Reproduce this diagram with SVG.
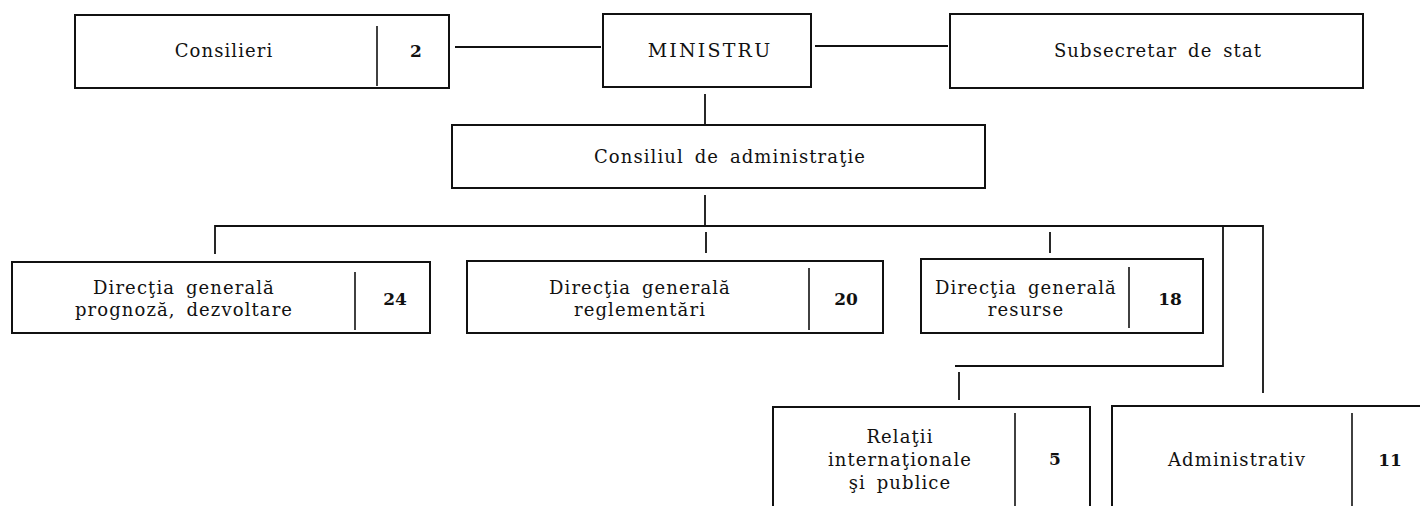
<svg xmlns="http://www.w3.org/2000/svg" width="1420" height="506" viewBox="0 0 1420 506">
<style>
.box{fill:#fff;stroke:#111;stroke-width:2}
.div{stroke:#111;stroke-width:1.6;fill:none}
.ln{stroke:#111;stroke-width:1.8;fill:none}
.t{font-family:"DejaVu Serif","Liberation Serif",serif;font-size:18px;letter-spacing:1.1px;word-spacing:4px;fill:#111;text-anchor:middle}
.n{font-family:"DejaVu Serif","Liberation Serif",serif;font-size:17px;font-weight:bold;fill:#111;text-anchor:middle}
</style>
<rect width="1420" height="506" fill="#fff"/>
<g id="connectors">
<line class="ln" x1="455" y1="47" x2="601" y2="47"/>
<line class="ln" x1="815" y1="46" x2="948" y2="46"/>
<line class="ln" x1="705" y1="94" x2="705" y2="124"/>
<line class="ln" x1="705" y1="195" x2="705" y2="226"/>
<polyline class="ln" points="215,254 215,226 1263,226 1263,393"/>
<line class="ln" x1="706" y1="232" x2="706" y2="253"/>
<line class="ln" x1="1050" y1="232" x2="1050" y2="253"/>
<polyline class="ln" points="1223,226 1223,366 955,366"/>
<line class="ln" x1="959" y1="372" x2="959" y2="400"/>
</g>
<g id="consilieri">
<rect class="box" x="75" y="15" width="374" height="73"/>
<line class="div" x1="377" y1="26" x2="377" y2="86"/>
<text class="t" x="224" y="57">Consilieri</text>
<text class="n" x="416" y="57">2</text>
</g>
<g id="ministru">
<rect class="box" x="603" y="14" width="208" height="73"/>
<text class="t" x="710" y="57" style="font-size:19px;letter-spacing:2.2px">MINISTRU</text>
</g>
<g id="subsecretar">
<rect class="box" x="950" y="14" width="413" height="74"/>
<text class="t" x="1158" y="57">Subsecretar de stat</text>
</g>
<g id="consiliul">
<rect class="box" x="452" y="125" width="533" height="63"/>
<text class="t" x="730" y="163">Consiliul de administraţie</text>
</g>
<g id="dg-prognoza">
<rect class="box" x="12" y="262" width="418" height="71"/>
<line class="div" x1="355" y1="272" x2="355" y2="330"/>
<text class="t" x="184" y="294">Direcţia generală</text>
<text class="t" x="184" y="316">prognoză, dezvoltare</text>
<text class="n" x="395" y="305">24</text>
</g>
<g id="dg-reglementari">
<rect class="box" x="467" y="261" width="416" height="72"/>
<line class="div" x1="809" y1="268" x2="809" y2="330"/>
<text class="t" x="640" y="294">Direcţia generală</text>
<text class="t" x="640" y="316">reglementări</text>
<text class="n" x="846" y="305">20</text>
</g>
<g id="dg-resurse">
<rect class="box" x="921" y="259" width="282" height="74"/>
<line class="div" x1="1129" y1="267" x2="1129" y2="328"/>
<text class="t" x="1026" y="294">Direcţia generală</text>
<text class="t" x="1026" y="316">resurse</text>
<text class="n" x="1170" y="305">18</text>
</g>
<g id="relatii">
<rect class="box" x="773" y="407" width="317" height="120"/>
<line class="div" x1="1015" y1="413" x2="1015" y2="506"/>
<text class="t" x="900" y="443">Relaţii</text>
<text class="t" x="900" y="466">internaţionale</text>
<text class="t" x="900" y="489">şi publice</text>
<text class="n" x="1055" y="465">5</text>
</g>
<g id="administrativ">
<rect class="box" x="1112" y="406" width="320" height="120"/>
<line class="div" x1="1352" y1="413" x2="1352" y2="506"/>
<text class="t" x="1237" y="466">Administrativ</text>
<text class="n" x="1390" y="466">11</text>
</g>
</svg>
